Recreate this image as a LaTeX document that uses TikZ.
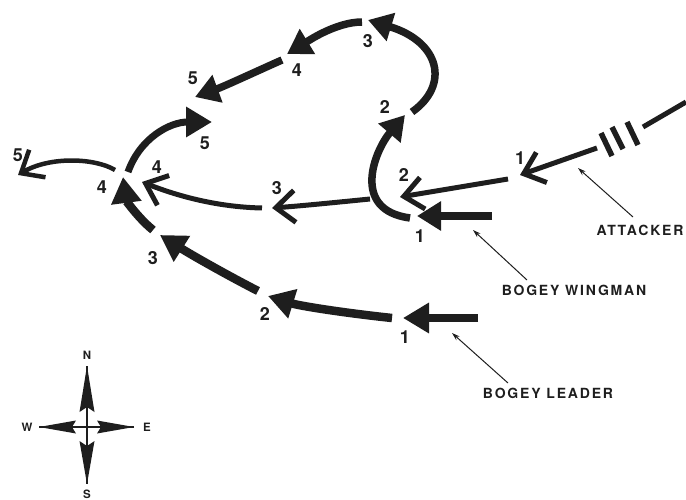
\documentclass[tikz,border=0pt]{standalone}
\usepackage{fontspec}
\setmainfont{TeX Gyre Heros}
\newfontfamily\lblfont[LetterSpace=13]{TeX Gyre Heros}
\usetikzlibrary{arrows.meta}
\definecolor{ink}{HTML}{1E1E1E}
\begin{document}
\begin{tikzpicture}[x=1pt,y=-1pt,
  leader/.style={draw=ink,line width=8.5pt,-{Triangle[length=26pt,width=29pt]}},
  wing/.style={draw=ink,line width=7.5pt,-{Triangle[length=24pt,width=28pt]}},
  atk/.style={draw=ink,line width=5pt,-{Straight Barb[length=19pt,width=32pt]}},
  num/.style={text=ink,font=\fontsize{18}{18}\selectfont\bfseries,inner sep=0pt},
  lbl/.style={text=ink,font=\lblfont\fontsize{14}{15}\selectfont\bfseries,inner sep=0pt},
  compl/.style={text=ink,font=\fontsize{11.5}{12}\selectfont\bfseries,inner sep=0pt},
  call/.style={draw=ink,line width=1pt,-{Stealth[length=8pt,width=5pt]}}
]
\useasboundingbox (0,0) rectangle (686,500);

% ---------- Bogey leader ----------
\coordinate (L0s) at (478,318); \coordinate (L1) at (403,318);
\coordinate (L1s) at (392,318); \coordinate (L2) at (268,296);
\coordinate (L2s) at (258,291); \coordinate (L3) at (160,235);
\coordinate (L3s) at (153,230); \coordinate (L4) at (123,177);
\coordinate (L4s) at (128,172); \coordinate (L5) at (212,122);
\draw[leader] (L0s) -- (L1);
\draw[leader] (L1s) .. controls (345,313) and (300,306) .. (L2);
\draw[leader] (L2s) .. controls (225,274) and (190,254) .. (L3);
\draw[leader] (L3s) .. controls (138,218) and (126,200) .. (L4);
\draw[leader,line width=7pt] (L4s) .. controls (140,138) and (170,122) .. (L5);

% ---------- Bogey wingman ----------
\coordinate (W0s) at (492,216); \coordinate (W1) at (417,216);
\coordinate (W1s) at (410,218); \coordinate (W2) at (405,115);
\coordinate (W2s) at (412,112); \coordinate (W3) at (368,20);
\coordinate (W3s) at (362,22);  \coordinate (W4) at (287,54);
\coordinate (W4s) at (282,60);  \coordinate (W5) at (195,97);
\draw[wing] (W0s) -- (W1);
\draw[wing] (W1s) .. controls (350,210) and (375,150) .. (W2);
\draw[wing] (W2s) .. controls (450,85) and (440,42) .. (W3);
\draw[wing] (W3s) .. controls (335,22) and (305,43) .. (W4);
\draw[wing] (W4s) .. controls (255,72) and (225,86) .. (W5);

% ---------- Attacker ----------
\coordinate (A0) at (686,102); \coordinate (A0e) at (643,127);
\coordinate (A0s) at (597,148); \coordinate (A1) at (520,175);
\coordinate (A1s) at (508,179); \coordinate (A2) at (400,197);
\coordinate (A2s) at (370,199); \coordinate (A3) at (272,208);
\coordinate (A3s) at (262,208); \coordinate (A4) at (142,182);
\coordinate (A4s) at (115,170); \coordinate (A5) at (18,175);
\draw[draw=ink,line width=5pt] (A0) -- (A0e);
\draw[draw=ink,line width=5.5pt] (601,133) -- (612,156);
\draw[draw=ink,line width=5.5pt] (612,127) -- (623,149);
\draw[draw=ink,line width=5.5pt] (627,122) -- (638,145);
\draw[atk] (A0s) -- (A1);
\draw[atk] (A1s) -- (A2);
\draw[atk] (A2s) .. controls (340,202) and (300,206) .. (A3);
\draw[atk] (A3s) .. controls (215,207) and (175,195) .. (A4);
\draw[atk,line width=4.5pt] (A4s) .. controls (95,158) and (50,156) .. (A5);

% ---------- numbers ----------
\node[num] (nL1) at (405,337) {1};
\node[num] (nL2) at (265,314) {2};
\node[num] (nL3) at (153,258) {3};
\node[num] (nL4) at (102,187) {4};
\node[num] (nL5) at (205,143) {5};
\node[num] (nW1) at (420,236) {1};
\node[num] (nW2) at (385,107) {2};
\node[num] (nW3) at (368,41) {3};
\node[num] (nW4) at (297,70) {4};
\node[num] (nW5) at (193,78) {5};
\node[num] (nA1) at (520,158) {1};
\node[num] (nA2) at (404,175) {2};
\node[num] (nA3) at (277,188) {3};
\node[num] (nA4) at (157,167) {4};
\node[num] (nA5) at (18,155) {5};

% ---------- labels and callouts ----------
\node[lbl] (tA) at (640,230) {ATTACKER};
\node[lbl] (tW) at (574,290) {BOGEY WINGMAN};
\node[lbl] (tL) at (548,393) {BOGEY LEADER};
\coordinate (cA0) at (633,217); \coordinate (cA1) at (578,168);
\coordinate (cW0) at (527,280); \coordinate (cW1) at (473,230);
\coordinate (cL0) at (508,383); \coordinate (cL1) at (452,333);
\draw[call] (cA0) -- (cA1);
\draw[call] (cW0) -- (cW1);
\draw[call] (cL0) -- (cL1);

% ---------- compass ----------
\coordinate (C) at (87,427);
\coordinate (CN) at (87,366); \coordinate (CS) at (87,484);
\coordinate (CW) at (39,427); \coordinate (CE) at (134,427);
\draw[draw=ink,line width=2.5pt] (CN) -- (CS);
\draw[draw=ink,line width=2.5pt] (CW) -- (CE);
\fill[ink] (CN) -- (79.5,412) -- (87,407) -- (94.5,412) -- cycle;
\fill[ink] (CS) -- (79.5,441) -- (87,446) -- (94.5,441) -- cycle;
\fill[ink] (CW) -- (76,420.5) -- (72,427) -- (76,433.5) -- cycle;
\fill[ink] (CE) -- (97,420.5) -- (101,427) -- (97,433.5) -- cycle;
\node[compl] (tN) at (87,355) {N};
\node[compl] (tS) at (87,494) {S};
\node[compl] (tWw) at (27,427) {W};
\node[compl] (tE) at (147,427) {E};
\end{tikzpicture}
\end{document}
